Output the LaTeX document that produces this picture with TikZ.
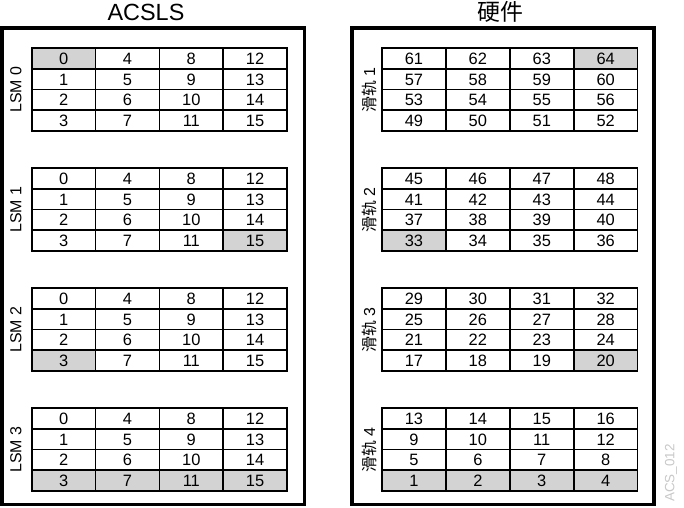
\documentclass[tikz,border=0pt]{standalone}
\usepackage{fontspec}
\setmainfont{Liberation Sans}
\newfontfamily\cjk{Noto Sans CJK SC}
\usetikzlibrary{backgrounds}
\definecolor{slotgray}{HTML}{D3D3D3}
\definecolor{markgray}{HTML}{C8C8C8}
\tikzset{
  cell/.style={draw, line width=1.6bp, minimum width=63.8bp, minimum height=20.75bp,
    inner sep=0pt, text height=12bp, text depth=0pt, font=\fontsize{16.5}{16.5}\selectfont},
  frame/.style={draw, line width=3.8bp},
  side/.style={rotate=90, inner sep=0pt, font=\fontsize{16}{16}\selectfont},
  title/.style={anchor=base, inner sep=0pt, font=\fontsize{23.5}{23.5}\selectfont}
}
\begin{document}
\begin{tikzpicture}[x=1bp,y=-1bp]
\useasboundingbox (0,0) rectangle (684,508);

\node[title] (acsls) at (146,20.5) {ACSLS};
\node[title, font=\cjk\fontsize{23}{23}\selectfont] (hw) at (500,21) {硬件};

\draw[frame] (1.8,28.3) rectangle (304.5,504.5);
\draw[frame] (352,28.3) rectangle (654,504.5);

% ACSLS side, LSM 0..3
\foreach \t in {0,...,3} {
  \node[side] (lsm\t) at (16,{48+120*\t+41.5}) {LSM \t};
  \foreach \r in {0,...,3}
    \foreach \c in {0,...,3} {
      \pgfmathtruncatemacro\num{4*\c+\r}
      \node[cell] (lsm\t-\r-\c) at ({31.8+63.8*(\c+0.5)},{48+120*\t+20.75*(\r+0.5)}) {\num};
    }
}

% hardware side, rails 1..4
\foreach \t in {0,...,3} {
  \pgfmathtruncatemacro\k{\t+1}
  \node[side] (rail\t) at (369,{48+120*\t+42}) {{\cjk 滑轨} \k};
  \foreach \r in {0,...,3}
    \foreach \c in {0,...,3} {
      \pgfmathtruncatemacro\num{(3-\t)*16+13-4*\r+\c}
      \node[cell] (rail\t-\r-\c) at ({382+63.9*(\c+0.5)},{48+120*\t+20.75*(\r+0.5)}) {\num};
    }
}

\begin{scope}[on background layer]
\foreach \t/\r/\c in {0/0/0,1/3/3,2/3/0,3/3/0,3/3/1,3/3/2,3/3/3}
  \fill[slotgray] (lsm\t-\r-\c.south west) rectangle (lsm\t-\r-\c.north east);
\foreach \t/\r/\c in {0/0/3,1/3/0,2/3/3,3/3/0,3/3/1,3/3/2,3/3/3}
  \fill[slotgray] (rail\t-\r-\c.south west) rectangle (rail\t-\r-\c.north east);
\end{scope}

\node[rotate=90, text=markgray, font=\fontsize{13.5}{13.5}\selectfont] (tag) at (671,473) {ACS\_012};

\end{tikzpicture}
\end{document}
